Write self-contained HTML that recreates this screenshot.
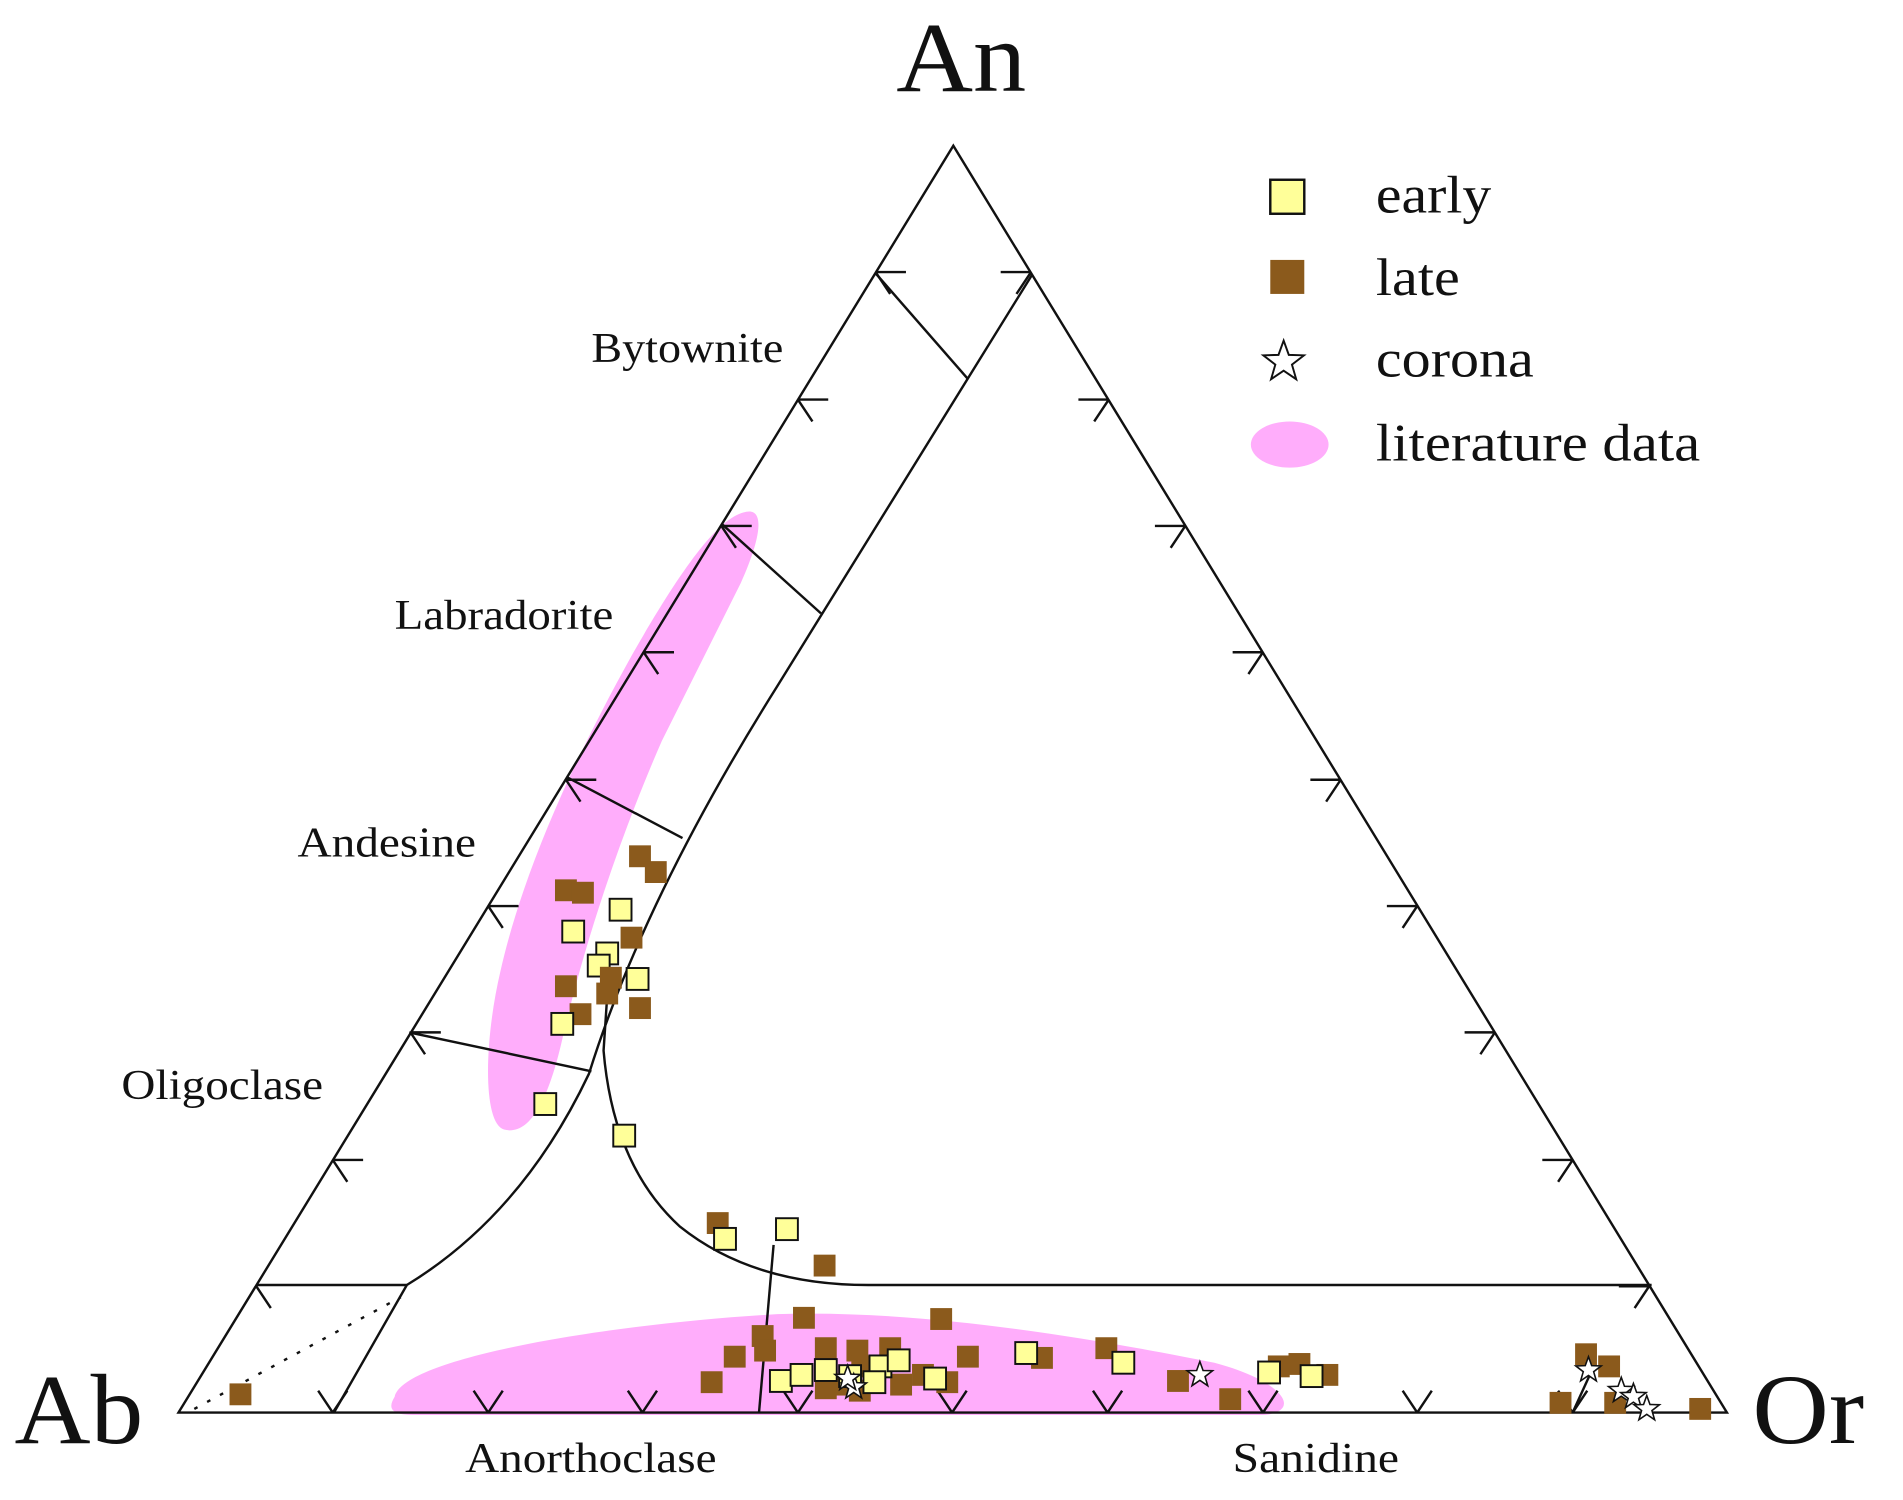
<!DOCTYPE html>
<html><head><meta charset="utf-8"><style>
html,body{margin:0;padding:0;background:#fff;}
svg{display:block;}
text{font-family:"Liberation Serif",serif;fill:#111;}
</style></head><body>
<svg width="1903" height="1500" viewBox="0 0 1567 1235" preserveAspectRatio="none" xmlns="http://www.w3.org/2000/svg">
<defs>
<rect id="e" x="-9" y="-9" width="18" height="18" fill="#ffff99" stroke="#111" stroke-width="1.6"/>
<rect id="l" x="-9" y="-9" width="18" height="18" fill="#8b5a1c"/>
<polygon id="s" points="0,-11 2.65,-3.64 10.46,-3.4 4.28,1.39 6.47,8.9 0,4.5 -6.47,8.9 -4.28,1.39 -10.46,-3.4 -2.65,-3.64" fill="#fff" stroke="#111" stroke-width="1.3"/>
</defs>
<path d="M612,422 C630,416 628,440 610,480 L545,610 C510,690 480,780 462,860 C450,910 435,935 415,930 C398,925 398,860 412,800 C430,720 470,630 520,540 C560,470 590,428 612,422 Z" fill="#ffadfb"/>
<path d="M325,1150 C332,1118 500,1090 640,1082 C760,1078 900,1102 1000,1122 C1060,1138 1072,1163 1040,1165 L340,1165 C320,1165 320,1158 325,1150 Z" fill="#ffadfb"/>
<g fill="none" stroke="#111" stroke-width="2">
<polygon points="147,1163 785,120 1422,1163"/>
<path d="M850,226 L640,565 Q530,740 485,884 Q430,1000 335,1058 L275,1163"/>
<path d="M502,790 L497,865 Q505,960 560,1010 Q620,1058 715,1058 L1360,1058"/>
<line x1="721" y1="225" x2="797" y2="312"/>
<line x1="595" y1="432" x2="676" y2="505"/>
<line x1="467" y1="640" x2="562" y2="690"/>
<line x1="337" y1="850" x2="487" y2="882"/>
<line x1="212" y1="1058" x2="335" y2="1058"/>
<line x1="625" y1="1163" x2="637" y2="1025"/>
<line x1="1295" y1="1163" x2="1310" y2="1130"/>
<line x1="160" y1="1160" x2="330" y2="1068" stroke-dasharray="3,9"/>
<path d="M721,224 l25,0 M721,224 l12,18 M657,329 l25,0 M657,329 l12,18 M594,433 l25,0 M594,433 l12,18 M530,537 l25,0 M530,537 l12,18 M466,642 l25,0 M466,642 l12,18 M402,746 l25,0 M402,746 l12,18 M338,850 l25,0 M338,850 l12,18 M274,955 l25,0 M274,955 l12,18 M211,1059 l12,18"/>
<path d="M1358,1059 l-25,0 M1358,1059 l-12,18 M1295,955 l-25,0 M1295,955 l-12,18 M1231,850 l-25,0 M1231,850 l-12,18 M1167,746 l-25,0 M1167,746 l-12,18 M1104,642 l-25,0 M1104,642 l-12,18 M1040,537 l-25,0 M1040,537 l-12,18 M976,433 l-25,0 M976,433 l-12,18 M913,329 l-25,0 M913,329 l-12,18 M849,224 l-25,0 M849,224 l-12,18"/>
<path d="M274,1163 l-12,-18 M274,1163 l12,-18 M402,1163 l-12,-18 M402,1163 l12,-18 M529,1163 l-12,-18 M529,1163 l12,-18 M657,1163 l-12,-18 M657,1163 l12,-18 M784,1163 l-12,-18 M784,1163 l12,-18 M912,1163 l-12,-18 M912,1163 l12,-18 M1040,1163 l-12,-18 M1040,1163 l12,-18 M1167,1163 l-12,-18 M1167,1163 l12,-18 M1295,1163 l-12,-18 M1295,1163 l12,-18"/>
</g>
<g>
<use href="#l" x="527" y="705"/><use href="#l" x="540" y="718"/><use href="#l" x="466" y="733"/><use href="#l" x="480" y="735"/><use href="#l" x="520" y="772"/><use href="#l" x="466" y="812"/><use href="#l" x="478" y="835"/><use href="#l" x="527" y="830"/><use href="#l" x="198" y="1148"/><use href="#l" x="591" y="1007"/><use href="#l" x="679" y="1042"/><use href="#l" x="662" y="1085"/><use href="#l" x="775" y="1086"/><use href="#l" x="628" y="1100"/><use href="#l" x="630" y="1112"/><use href="#l" x="605" y="1117"/><use href="#l" x="586" y="1138"/><use href="#l" x="680" y="1110"/><use href="#l" x="706" y="1112"/><use href="#l" x="733" y="1110"/><use href="#l" x="710" y="1125"/><use href="#l" x="742" y="1140"/><use href="#l" x="760" y="1132"/><use href="#l" x="780" y="1138"/><use href="#l" x="797" y="1117"/><use href="#l" x="858" y="1118"/><use href="#l" x="911" y="1110"/><use href="#l" x="970" y="1137"/><use href="#l" x="1013" y="1152"/><use href="#l" x="1053" y="1125"/><use href="#l" x="1070" y="1123"/><use href="#l" x="1093" y="1132"/><use href="#l" x="1306" y="1115"/><use href="#l" x="1325" y="1125"/><use href="#l" x="1330" y="1155"/><use href="#l" x="1285" y="1155"/><use href="#l" x="1400" y="1160"/><use href="#l" x="690" y="1140"/><use href="#l" x="680" y="1143"/><use href="#l" x="708" y="1145"/>
</g>
<g>
<use href="#e" x="511" y="749"/><use href="#e" x="472" y="767"/><use href="#e" x="500" y="785"/><use href="#e" x="493" y="795"/><use href="#e" x="525" y="806"/><use href="#e" x="463" y="843"/><use href="#e" x="449" y="909"/><use href="#e" x="514" y="935"/><use href="#e" x="597" y="1020"/><use href="#e" x="648" y="1012"/><use href="#e" x="845" y="1114"/><use href="#e" x="925" y="1122"/><use href="#e" x="1045" y="1130"/><use href="#e" x="1080" y="1133"/><use href="#e" x="643" y="1137"/><use href="#e" x="660" y="1132"/><use href="#e" x="680" y="1128"/><use href="#e" x="700" y="1133"/><use href="#e" x="725" y="1125"/><use href="#e" x="740" y="1120"/><use href="#e" x="720" y="1138"/><use href="#e" x="770" y="1135"/>
</g>
<g>
<use href="#l" x="503" y="805"/><use href="#l" x="500" y="818"/>
</g>
<g>
<use href="#s" x="703" y="1142"/><use href="#s" x="698" y="1135"/><use href="#s" x="988" y="1132"/><use href="#s" x="1308" y="1128"/><use href="#s" x="1335" y="1145"/><use href="#s" x="1345" y="1150"/><use href="#s" x="1356" y="1160"/>
</g>
<rect x="1046" y="148" width="28" height="28" fill="#ffff99" stroke="#111" stroke-width="2"/>
<rect x="1046" y="214" width="28" height="28" fill="#8b5a1c"/>
<polygon transform="translate(1057,298) scale(1.6)" points="0,-11 2.65,-3.64 10.46,-3.4 4.28,1.39 6.47,8.9 0,4.5 -6.47,8.9 -4.28,1.39 -10.46,-3.4 -2.65,-3.64" fill="#fff" stroke="#111" stroke-width="1"/>
<ellipse cx="1062" cy="366" rx="32" ry="19" fill="#ffadfb"/>
<text x="1133" y="175" font-size="44" textLength="95" lengthAdjust="spacingAndGlyphs">early</text>
<text x="1133" y="243" font-size="44" textLength="69" lengthAdjust="spacingAndGlyphs">late</text>
<text x="1133" y="310" font-size="44" textLength="130" lengthAdjust="spacingAndGlyphs">corona</text>
<text x="1133" y="379" font-size="44" textLength="267" lengthAdjust="spacingAndGlyphs">literature data</text>
<text x="738" y="75" font-size="82" textLength="107" lengthAdjust="spacingAndGlyphs">An</text>
<text x="12" y="1188" font-size="82" textLength="106" lengthAdjust="spacingAndGlyphs">Ab</text>
<text x="1443" y="1188" font-size="82" textLength="92" lengthAdjust="spacingAndGlyphs">Or</text>
<text x="487" y="298" font-size="35" textLength="158" lengthAdjust="spacingAndGlyphs">Bytownite</text>
<text x="325" y="518" font-size="35" textLength="180" lengthAdjust="spacingAndGlyphs">Labradorite</text>
<text x="245" y="705" font-size="35" textLength="147" lengthAdjust="spacingAndGlyphs">Andesine</text>
<text x="100" y="905" font-size="35" textLength="166" lengthAdjust="spacingAndGlyphs">Oligoclase</text>
<text x="383" y="1212" font-size="35" textLength="207" lengthAdjust="spacingAndGlyphs">Anorthoclase</text>
<text x="1015" y="1212" font-size="35" textLength="137" lengthAdjust="spacingAndGlyphs">Sanidine</text>
</svg>
</body></html>
